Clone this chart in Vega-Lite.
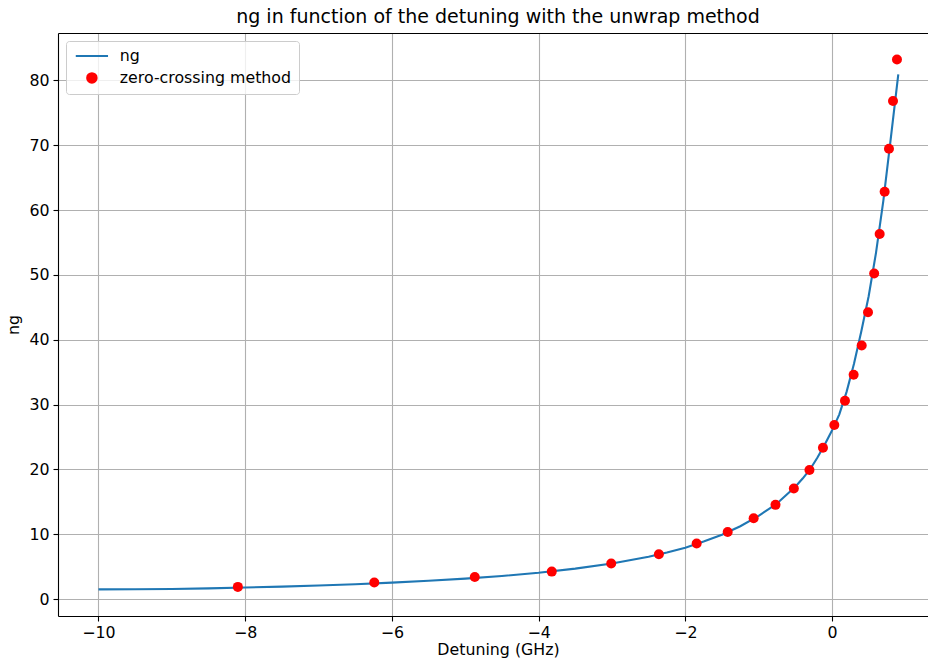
{
  "$schema": "https://vega.github.io/schema/vega-lite/v6.json",
  "width": 870,
  "height": 583,
  "autosize": {"type": "none"},
  "padding": {"left": 58, "top": 33, "right": 0, "bottom": 50},
  "background": "white",
  "config": {
    "font": "DejaVu Sans",
    "view": {"stroke": null},
    "axis": {
      "labelFont": "DejaVu Sans",
      "labelFontSize": 15.8,
      "labelColor": "black",
      "titleFont": "DejaVu Sans",
      "titleFontSize": 15.8,
      "titleFontWeight": "normal",
      "titleColor": "black",
      "gridColor": "#b0b0b0",
      "gridWidth": 1.1,
      "gridOpacity": 1,
      "domainColor": "black",
      "domainWidth": 1.1,
      "tickColor": "black",
      "tickSize": 5,
      "tickWidth": 1.1,
      "labelPadding": 4
    },
    "legend": {
      "labelFont": "DejaVu Sans",
      "labelFontSize": 15.8,
      "labelColor": "black",
      "labelLimit": 400
    }
  },
  "title": {
    "text": "ng in function of the detuning with the unwrap method",
    "font": "DejaVu Sans",
    "fontSize": 19,
    "fontWeight": "normal",
    "color": "black",
    "anchor": "middle",
    "offset": 6,
    "dx": 5
  },
  "datasets": {
    "curve": [
      {"detuning": -10, "ng": 1.52},
      {"detuning": -9.5, "ng": 1.53},
      {"detuning": -9, "ng": 1.57},
      {"detuning": -8.5, "ng": 1.67},
      {"detuning": -8, "ng": 1.8},
      {"detuning": -7.5, "ng": 1.95},
      {"detuning": -7, "ng": 2.12},
      {"detuning": -6.5, "ng": 2.32},
      {"detuning": -6, "ng": 2.56},
      {"detuning": -5.5, "ng": 2.84},
      {"detuning": -5, "ng": 3.18},
      {"detuning": -4.5, "ng": 3.58},
      {"detuning": -4, "ng": 4.08},
      {"detuning": -3.5, "ng": 4.72},
      {"detuning": -3, "ng": 5.52},
      {"detuning": -2.5, "ng": 6.55},
      {"detuning": -2.25, "ng": 7.2},
      {"detuning": -2, "ng": 7.95},
      {"detuning": -1.75, "ng": 8.9},
      {"detuning": -1.5, "ng": 9.95},
      {"detuning": -1.25, "ng": 11.25},
      {"detuning": -1, "ng": 12.85},
      {"detuning": -0.75, "ng": 14.75},
      {"detuning": -0.5, "ng": 17.35},
      {"detuning": -0.4, "ng": 18.6},
      {"detuning": -0.3, "ng": 20.0},
      {"detuning": -0.2, "ng": 21.8},
      {"detuning": -0.1, "ng": 23.8},
      {"detuning": 0, "ng": 26.0},
      {"detuning": 0.1, "ng": 28.5},
      {"detuning": 0.2, "ng": 32.0},
      {"detuning": 0.3, "ng": 36.3},
      {"detuning": 0.4, "ng": 41.3},
      {"detuning": 0.5, "ng": 46.7},
      {"detuning": 0.6, "ng": 53.4},
      {"detuning": 0.7, "ng": 61.4},
      {"detuning": 0.8, "ng": 70.9},
      {"detuning": 0.904, "ng": 80.9}
    ],
    "zero": [
      {"detuning": -8.1, "ng": 1.9},
      {"detuning": -6.24, "ng": 2.57},
      {"detuning": -4.87, "ng": 3.44},
      {"detuning": -3.82, "ng": 4.26},
      {"detuning": -3.01, "ng": 5.5},
      {"detuning": -2.36, "ng": 6.93},
      {"detuning": -1.845, "ng": 8.58},
      {"detuning": -1.422, "ng": 10.37},
      {"detuning": -1.068, "ng": 12.48},
      {"detuning": -0.77, "ng": 14.55},
      {"detuning": -0.52, "ng": 17.08},
      {"detuning": -0.307, "ng": 19.92},
      {"detuning": -0.123, "ng": 23.35},
      {"detuning": 0.032, "ng": 26.86},
      {"detuning": 0.177, "ng": 30.6},
      {"detuning": 0.295, "ng": 34.6},
      {"detuning": 0.405, "ng": 39.1},
      {"detuning": 0.491, "ng": 44.25},
      {"detuning": 0.575, "ng": 50.2},
      {"detuning": 0.65, "ng": 56.3},
      {"detuning": 0.718, "ng": 62.8},
      {"detuning": 0.777, "ng": 69.45},
      {"detuning": 0.832, "ng": 76.8},
      {"detuning": 0.886, "ng": 83.2}
    ]
  },
  "resolve": {"axis": {"x": "independent"}},
  "layer": [
    {
      "data": {"name": "curve"},
      "mark": {"type": "line", "strokeWidth": 2.1, "clip": true},
      "encoding": {
        "x": {
          "field": "detuning",
          "type": "quantitative",
          "scale": {"domain": [-10.552, 1.309], "nice": false, "zero": false},
          "axis": {
            "title": "Detuning (GHz)",
            "values": [-10, -8, -6, -4, -2, 0],
            "titleX": 440,
            "titlePadding": 3
          }
        },
        "y": {
          "field": "ng",
          "type": "quantitative",
          "scale": {"domain": [-2.585, 87.285], "nice": false, "zero": false},
          "axis": {
            "title": "ng",
            "values": [0, 10, 20, 30, 40, 50, 60, 70, 80],
            "titlePadding": 7
          }
        },
        "color": {
          "datum": "ng",
          "type": "nominal",
          "scale": {"domain": ["ng", "zero-crossing method"], "range": ["#1f77b4", "#ff0000"]},
          "legend": {
            "title": null,
            "orient": "none",
            "legendX": 8,
            "legendY": 8,
            "padding": 7,
            "rowPadding": 5,
            "fillColor": "rgba(255,255,255,0.8)",
            "strokeColor": "#cccccc",
            "cornerRadius": 3,
            "symbolSize": 90,
            "symbolOffset": 11,
            "labelOffset": 20,
            "labelLimit": 400,
            "symbolStrokeWidth": 2,
            "encode": {
              "symbols": {
                "update": {
                  "stroke": {"scale": "color", "field": "value"},
                  "strokeWidth": {"value": 2}
                }
              }
            }
          }
        }
      }
    },
    {
      "data": {"name": "zero"},
      "mark": {"type": "point", "filled": true, "opacity": 1, "size": 100},
      "encoding": {
        "x": {
          "field": "detuning",
          "type": "quantitative",
          "axis": {
            "orient": "top",
            "labels": false,
            "ticks": false,
            "grid": false,
            "title": null,
            "domain": true
          }
        },
        "y": {"field": "ng", "type": "quantitative"},
        "color": {"datum": "zero-crossing method", "type": "nominal"},
        "shape": {
          "datum": "zero-crossing method",
          "type": "nominal",
          "scale": {"domain": ["ng", "zero-crossing method"], "range": ["M-3.4,0L3.4,0", "circle"]}
        }
      }
    }
  ]
}
